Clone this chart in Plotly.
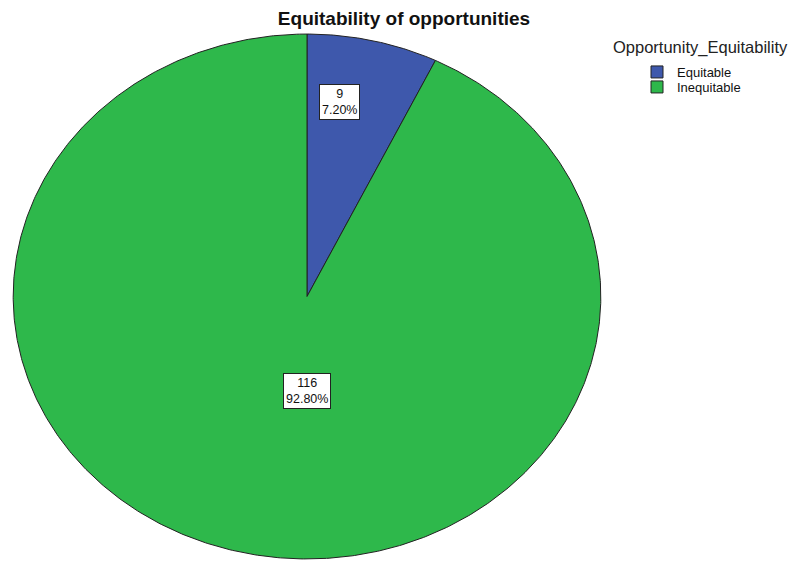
import numpy as np
import plotly.graph_objects as go

categories = ["Equitable", "Inequitable"]
counts = [9, 116]
percent_labels = ["7.20%", "92.80%"]
colors = ["#3E58AC", "#2EB84B"]
title_text = "Equitability of opportunities"
legend_title = "Opportunity_Equitability"

# label placement (fraction of radii) per slice
label_pos = [(0.112, 0.74), (0.0, -0.36)]

W, H = 790, 561
ML, MR, MT, MB = 12, 188, 33, 1
PW, PH = W - ML - MR, H - MT - MB


def px_to_paper(px, py):
    return (px - ML) / PW, 1 - (py - MT) / PH


total = sum(counts)
fig = go.Figure()
start = 0.0
for cat, cnt, col in zip(categories, counts, colors):
    frac = cnt / total
    th = np.linspace(start, start + frac, max(int(frac * 720), 8)) * 2 * np.pi
    xs = np.concatenate([[0.0], np.sin(th), [0.0]])
    ys = np.concatenate([[0.0], np.cos(th), [0.0]])
    fig.add_trace(go.Scatter(
        x=xs, y=ys, mode="lines", fill="toself", fillcolor=col,
        line=dict(color="#222222", width=1), name=cat,
        hoverinfo="name", showlegend=False))
    start += frac

# legend entries (one legend per entry to match the tight row spacing)
legend_names = ["legend", "legend2"]
legend_rows = [72, 87]
for cat, col, lg in zip(categories, colors, legend_names):
    fig.add_trace(go.Scatter(
        x=[None], y=[None], mode="markers", name=cat, legend=lg,
        marker=dict(symbol="square", size=12, color=col,
                    line=dict(color="#222222", width=1)),
        showlegend=True))

for cnt, pct, (lx, ly) in zip(counts, percent_labels, label_pos):
    fig.add_annotation(x=lx, y=ly, xref="x", yref="y", text=f"{cnt}<br>{pct}",
                       showarrow=False, bgcolor="white", bordercolor="#222222",
                       borderwidth=1, borderpad=2,
                       font=dict(family="Arial, Liberation Sans", size=12.5, color="#111111"))

tx, ty = px_to_paper(700, 48)
fig.add_annotation(x=tx, y=ty, xref="paper", yref="paper", text=legend_title,
                   showarrow=False, xanchor="center", yanchor="middle",
                   font=dict(family="Arial, Liberation Sans", size=16.5, color="#222222"))

legend_common = dict(xanchor="left", yanchor="middle",
                     font=dict(family="Arial, Liberation Sans", size=13, color="#111111"),
                     itemwidth=30, bgcolor="rgba(0,0,0,0)", borderwidth=0)
lx0, _ = px_to_paper(637, 0)
_, ly1 = px_to_paper(0, legend_rows[0])
_, ly2 = px_to_paper(0, legend_rows[1])

fig.update_layout(
    width=W, height=H,
    margin=dict(l=ML, r=MR, t=MT, b=MB),
    paper_bgcolor="white", plot_bgcolor="white",
    title=dict(text=f"<b>{title_text}</b>", x=404 / W, xanchor="center",
               y=1 - 18 / H, yanchor="middle",
               font=dict(family="Arial, Liberation Sans", size=19, color="#111111")),
    xaxis=dict(range=[-1.004, 1.004], visible=False, fixedrange=True),
    yaxis=dict(range=[-1.004, 1.004], visible=False, fixedrange=True),
    legend=dict(x=lx0, y=ly1, **legend_common),
    legend2=dict(x=lx0, y=ly2, **legend_common),
    showlegend=True,
)

fig.write_html("out.html")
